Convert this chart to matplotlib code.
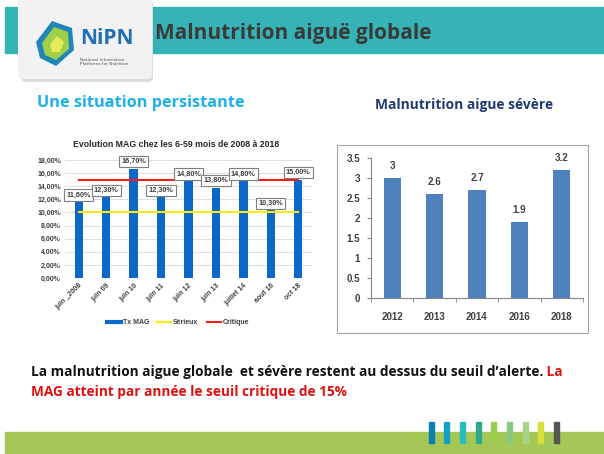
import matplotlib.pyplot as plt
from matplotlib.patches import Rectangle, FancyBboxPatch, Polygon
from matplotlib.lines import Line2D

W, H = 604, 454

# left chart data (MAG, % of children 6-59 months)
mag_periods = ['juin _2008', 'juin 09', 'juin 10', 'juin 11', 'juin 12',
               'juin 13', 'juillet 14', 'aout 16', 'oct 18']
mag_values = [11.6, 12.3, 16.7, 12.3, 14.8, 13.8, 14.8, 10.3, 15.0]
seuil_serieux = 10.0
seuil_critique = 15.0

# right chart data (MAS)
mas_years = ['2012', '2013', '2014', '2016', '2018']
mas_values = [3.0, 2.6, 2.7, 1.9, 3.2]

deco_colors = ['#0a7fb5', '#14a0c8', '#2bbcc0', '#2baa8a', '#9bcb4c',
               '#86c97f', '#a8d48a', '#d7df3a', '#555555']

CHART_FONT = 'Liberation Sans'


def fx(x):
    return x / W


def fy(y):
    return 1 - y / H


def box(x0, y0, x1, y1):
    # pixel box (top-left origin) -> figure rect
    return [fx(x0), fy(y1), fx(x1) - fx(x0), fy(y0) - fy(y1)]


fig = plt.figure(figsize=(W / 100, H / 100), dpi=100)
fig.patch.set_facecolor('white')

# header band
fig.patches.append(Rectangle((fx(5), fy(53)), 1 - fx(5), fy(7) - fy(53),
                             transform=fig.transFigure, color='#35b3b6', zorder=-2))
# logo card
fig.patches.append(FancyBboxPatch((fx(21), fy(82)), fx(132), fy(0) - fy(82),
                                  boxstyle='round,pad=0,rounding_size=0.01',
                                  transform=fig.transFigure, facecolor='#dcdcdc',
                                  edgecolor='none', zorder=1))
fig.patches.append(FancyBboxPatch((fx(18), fy(79)), fx(134), fy(-5) - fy(79),
                                  boxstyle='round,pad=0,rounding_size=0.01',
                                  transform=fig.transFigure, facecolor='#f2f2f2',
                                  edgecolor='none', zorder=2))
# logo mark
hexa = [(36, 42), (52, 21), (72, 28), (74, 50), (56, 66), (40, 58)]
fig.patches.append(Polygon([(fx(a), fy(b)) for a, b in hexa], closed=True,
                           transform=fig.transFigure, facecolor='#1f87b8',
                           edgecolor='none', zorder=3))
inner = [(42, 43), (54, 27), (68, 32), (69, 49), (56, 60), (45, 55)]
fig.patches.append(Polygon([(fx(a), fy(b)) for a, b in inner], closed=True,
                           transform=fig.transFigure, facecolor='#9fd04a',
                           edgecolor='none', zorder=4))
core = [(50, 44), (57, 36), (64, 42), (60, 52), (52, 52)]
fig.patches.append(Polygon([(fx(a), fy(b)) for a, b in core], closed=True,
                           transform=fig.transFigure, facecolor='#e8ec5a',
                           edgecolor='none', zorder=5))
fig.text(fx(80), fy(38), 'NiPN', fontsize=15, fontweight='bold', color='#1f6fb5',
         family='Open Sans', va='center', ha='left', zorder=6)
fig.text(fx(80), fy(62), 'National Information\nPlatforms for Nutrition',
         fontsize=3.2, color='#555555', va='center', ha='left',
         linespacing=1.1, zorder=6)

fig.text(fx(155), fy(33), 'Malnutrition aiguë globale', fontsize=15,
         fontweight='bold', color='#3a3a3a', family='Open Sans',
         va='center', ha='left')

fig.text(fx(37), fy(103), 'Une situation persistante', fontsize=11.7,
         fontweight='bold', color='#1cb0ec', family='Open Sans',
         va='center', ha='left')
fig.text(fx(375), fy(105), 'Malnutrition aigue sévère', fontsize=9.9,
         fontweight='bold', color='#1f3a73', family='Open Sans',
         va='center', ha='left')

# ---- left chart ----
ax1 = fig.add_axes(box(65, 160, 312, 278))
x1 = range(len(mag_values))
ax1.bar(x1, mag_values, width=0.3, color='#0a68c8', zorder=2)
ax1.plot([0, len(mag_values) - 1], [seuil_serieux] * 2, color='#ffee00', lw=1.5, zorder=3)
ax1.plot([0, len(mag_values) - 1], [seuil_critique] * 2, color='#ff1a1a', lw=1.5, zorder=3)
for i, v in enumerate(mag_values):
    lab = f'{v:.2f}%'.replace('.', ',')
    ax1.annotate(lab, (i, v), xytext=(0, 5), textcoords='offset points',
                 ha='center', va='center', fontsize=5.3, fontweight='bold',
                 family=CHART_FONT, color='#404040', zorder=5,
                 bbox=dict(boxstyle='square,pad=0.3', fc='white', ec='#7f7f7f', lw=0.8))
ax1.set_xlim(-0.5, len(mag_values) - 0.5)
ax1.set_ylim(0, 18)
ax1.set_yticks(range(0, 19, 2))
ax1.set_yticklabels([f'{t:.2f}%'.replace('.', ',') for t in range(0, 19, 2)],
                    fontsize=5, fontweight='bold', color='#404040', family=CHART_FONT)
ax1.set_xticks(list(x1))
ax1.set_xticklabels(mag_periods, rotation=45, ha='right', rotation_mode='anchor',
                    fontsize=5, fontweight='bold', color='#404040', family=CHART_FONT)
ax1.tick_params(length=0, pad=3)
ax1.grid(axis='y', color='#d9d9d9', lw=0.6, zorder=0)
for s in ax1.spines.values():
    s.set_visible(False)
fig.text(fx(176), fy(145), 'Evolution MAG chez les 6-59 mois de 2008 à 2018',
         fontsize=6.3, fontweight='bold', color='#262626', family=CHART_FONT,
         ha='center', va='center')
handles = [Line2D([], [], color='#0a68c8', lw=3),
           Line2D([], [], color='#ffee00', lw=1.5),
           Line2D([], [], color='#ff1a1a', lw=1.5)]
fig.legend(handles, ['Tx MAG', 'Sérieux', 'Critique'], loc='center',
           bbox_to_anchor=(fx(178), fy(323)), ncol=3, frameon=False,
           prop={'size': 5, 'weight': 'bold', 'family': CHART_FONT},
           handlelength=2.0, columnspacing=1.2, handletextpad=0.3,
           labelcolor='#404040')

# ---- right chart ----
fig.patches.append(Rectangle((fx(337), fy(333)), fx(588) - fx(337), fy(145) - fy(333),
                             transform=fig.transFigure, facecolor='white',
                             edgecolor='#a6a6a6', lw=0.8, zorder=-1))
ax2 = fig.add_axes(box(371, 158, 583, 298))
ax2.set_zorder(2)
ax2.patch.set_alpha(0)
x2 = range(len(mas_values))
ax2.bar(x2, mas_values, width=0.41, color='#4f81bd', zorder=2)
for i, v in enumerate(mas_values):
    ax2.annotate(f'{v:g}', (i, v), xytext=(0, 5), textcoords='offset points',
                 ha='center', va='bottom', fontsize=7, fontweight='bold',
                 family=CHART_FONT, color='#404040')
ax2.set_xlim(-0.5, len(mas_values) - 0.5)
ax2.set_ylim(0, 3.5)
ax2.set_yticks([0, 0.5, 1, 1.5, 2, 2.5, 3, 3.5])
ax2.set_yticklabels(['0', '0.5', '1', '1.5', '2', '2.5', '3', '3.5'],
                    fontsize=7, fontweight='bold', color='#404040', family=CHART_FONT)
ax2.set_xticks(list(x2))
ax2.set_xticklabels(mas_years, fontsize=7, fontweight='bold', color='#404040',
                    family=CHART_FONT)
ax2.set_xticks([i - 0.5 for i in range(len(mas_values) + 1)], minor=True)
ax2.tick_params(axis='x', which='major', length=0, pad=10)
ax2.tick_params(axis='x', which='minor', length=3, direction='out', color='#868686')
ax2.tick_params(axis='y', length=3, direction='out', color='#868686', pad=5)
for s in ['top', 'right']:
    ax2.spines[s].set_visible(False)
for s in ['left', 'bottom']:
    ax2.spines[s].set_color('#868686')
    ax2.spines[s].set_linewidth(0.8)

# ---- bottom message ----
t1 = fig.text(fx(31), fy(372), 'La malnutrition aigue globale  et sévère restent au dessus du seuil d\u2019alerte.',
              fontsize=9.8, fontweight='bold', color='#111111', family='Open Sans',
              va='center', ha='left')
fig.canvas.draw()
bb = t1.get_window_extent()
fig.text(bb.x1 / W, fy(372), ' La', fontsize=9.8, fontweight='bold', color='#e01010',
         family='Open Sans', va='center', ha='left')
fig.text(fx(31), fy(392), 'MAG atteint par année le seuil critique de 15%',
         fontsize=9.8, fontweight='bold', color='#e01010', family='Open Sans',
         va='center', ha='left')

# footer band
fig.patches.append(Rectangle((fx(5), 0), 1 - fx(5), fy(432), transform=fig.transFigure,
                             color='#a4c755', zorder=-2))
for i, c in enumerate(deco_colors):
    xc = 431 + i * 15.7
    fig.patches.append(Rectangle((fx(xc - 2.5), fy(443)), fx(5), fy(422) - fy(443),
                                 transform=fig.transFigure, color=c, zorder=2))

fig.savefig('out.png', dpi=100)
